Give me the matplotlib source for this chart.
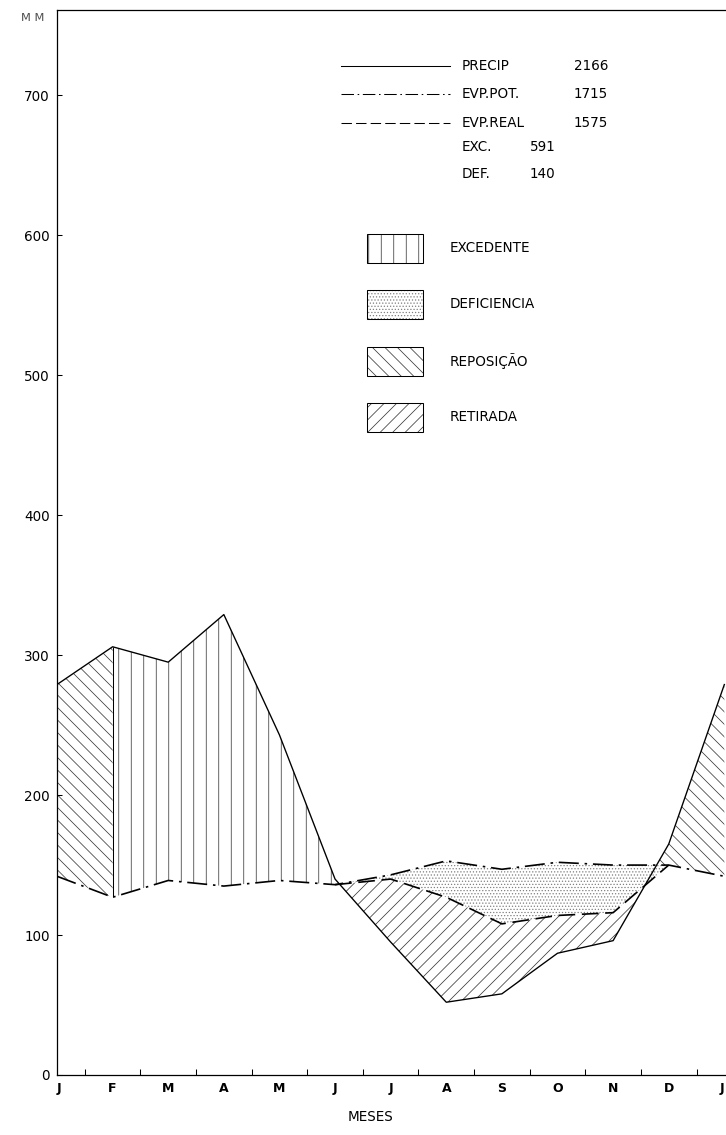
import numpy as np
import matplotlib.pyplot as plt
from matplotlib.patches import Rectangle

plt.rcParams['font.family'] = 'DejaVu Sans'
plt.rcParams['hatch.linewidth'] = 0.7

# balanco hidrico mensal (mm), de janeiro a janeiro
meses = ['J', 'F', 'M', 'A', 'M', 'J', 'J', 'A', 'S', 'O', 'N', 'D', 'J']
precip = np.array([279, 306, 295, 329, 243, 140, 95, 52, 58, 87, 96, 165, 279])
evp_pot = np.array([142, 127, 139, 135, 139, 136, 143, 153, 147, 152, 150, 150, 142])
evp_real = np.array([142, 127, 139, 135, 139, 136, 140, 127, 108, 114, 116, 150, 142])

# totais anuais
tot_nomes = ['PRECIP', 'EVP.POT.', 'EVP.REAL', 'EXC.', 'DEF.']
tot_valores = [2166, 1715, 1575, 591, 140]

areas = ['EXCEDENTE', 'DEFICIENCIA', 'REPOSIÇÃO', 'RETIRADA']
hatches = ['|', '....', '\\\\', '//']

x = np.arange(len(meses))
xf = np.linspace(0, 12, 2401)
pf = np.interp(xf, x, precip)
ef = np.interp(xf, x, evp_pot)
rf = np.interp(xf, x, evp_real)

fig = plt.figure(figsize=(726 / 75, 1135 / 75), dpi=75)
ax = fig.add_axes([57 / 726, 60 / 1135, 669 / 726, 1065 / 1135])
ax.set_xlim(0, 12.03)
ax.set_ylim(0, 761)

hc = '0.2'
dc = '0.5'
tr_pot = (12, 3.5, 1.5, 3.5)
tr_real = (10, 4)
# reposicao: jan-fev e a partir do cruzamento em nov/dez
ax.fill_between(xf, pf, ef, where=(xf <= 1), facecolor='none',
                edgecolor=hc, hatch=hatches[2], lw=0)
ax.fill_between(xf, pf, ef, where=(xf >= 10) & (pf >= ef), facecolor='none',
                edgecolor=hc, hatch=hatches[2], lw=0)
# excedente
ax.fill_between(xf, pf, ef, where=(xf >= 1) & (xf <= 6) & (pf >= ef),
                facecolor='none', edgecolor=hc, hatch=hatches[0], lw=0)
# deficiencia
ax.fill_between(xf, ef, rf, where=(ef > rf + 0.01), facecolor='none',
                edgecolor=dc, hatch=hatches[1], lw=0)
# retirada
ax.fill_between(xf, rf, pf, where=(rf > pf), facecolor='none',
                edgecolor=hc, hatch=hatches[3], lw=0)

ax.plot(x, precip, color='k', lw=1.3)
ax.plot(x, evp_pot, color='k', lw=1.6, dashes=tr_pot)
ax.plot(x[5:12], evp_real[5:12], color='k', lw=1.6, dashes=tr_real)
ax.vlines(x[1], evp_pot[1], precip[1], color='k', lw=1.0)

# eixos
ax.set_yticks(np.arange(0, 701, 100))
ax.set_yticklabels([str(v) for v in range(0, 701, 100)], fontsize=13)
ax.tick_params(axis='y', direction='in', length=5, width=1, pad=7)
ax.set_xticks(x)
ax.set_xticklabels(meses, fontsize=12, fontweight='bold')
ax.set_xticks(x[:-1] + 0.5, minor=True)
ax.tick_params(axis='x', which='major', length=0, pad=7)
ax.tick_params(axis='x', which='minor', direction='in', length=6, width=1)
labs = ax.get_xticklabels()
labs[0].set_ha('left')
labs[-1].set_ha('right')
for s in ['left', 'bottom', 'top']:
    ax.spines[s].set_linewidth(1.2)
ax.spines['right'].set_color('0.45')
ax.spines['right'].set_linewidth(0.8)

fig.text(33 / 726, 1 - 18 / 1135, 'M M', ha='center', va='center', fontsize=11, color='0.3')
fig.text(370 / 726, 1 - 1117 / 1135, 'MESES', ha='center', va='center', fontsize=13)

# legenda das linhas e totais
ys = [0.9474, 0.9211, 0.8939, 0.8714, 0.8460]
estilos = [dict(ls='-'), dict(dashes=tr_pot), dict(dashes=tr_real)]
for i, est in enumerate(estilos):
    ax.plot([0.4245, 0.5874], [ys[i], ys[i]], color='k', lw=1.0,
            transform=ax.transAxes, **est)
for i, (nome, val) in enumerate(zip(tot_nomes, tot_valores)):
    ax.text(0.6054, ys[i], nome, transform=ax.transAxes, fontsize=13, va='center')
    if i < 3:
        ax.text(0.8236, ys[i], str(val), transform=ax.transAxes, fontsize=13,
                va='center', ha='right')
    else:
        ax.text(0.7070, ys[i], str(val), transform=ax.transAxes, fontsize=13,
                va='center', ha='left')

# legenda das areas
yb = [0.7765, 0.7239, 0.6704, 0.6178]
for i, (nome, h) in enumerate(zip(areas, hatches)):
    cor = dc if h == '....' else hc
    ax.add_patch(Rectangle((0.4634, yb[i] - 0.0136), 0.0837, 0.0272,
                           transform=ax.transAxes, facecolor='none',
                           edgecolor=cor, hatch=h, lw=0))
    ax.add_patch(Rectangle((0.4634, yb[i] - 0.0136), 0.0837, 0.0272,
                           transform=ax.transAxes, facecolor='none',
                           edgecolor='k', lw=1.0))
    ax.text(0.5874, yb[i], nome, transform=ax.transAxes, fontsize=13, va='center')

fig.savefig('out.png', dpi=75)
